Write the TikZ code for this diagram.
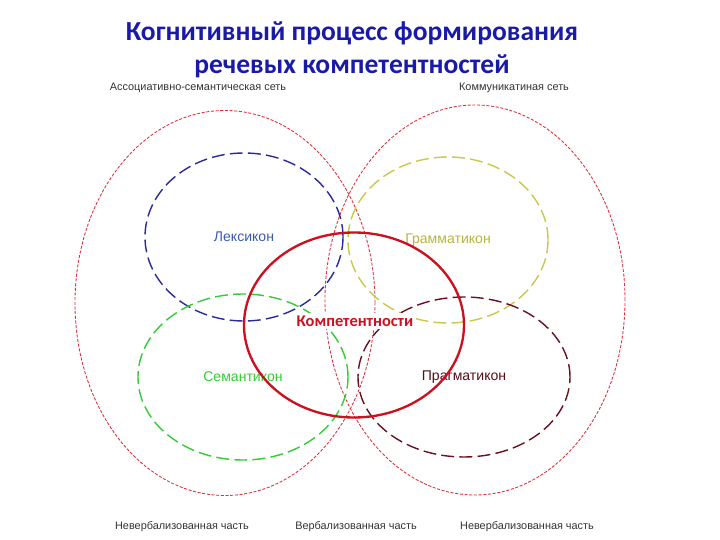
\documentclass[tikz,border=0pt]{standalone}
\usepackage{fontspec}
\setmainfont{Liberation Sans}
\newfontfamily\titlefont{Carlito}
\usepackage{xcolor}
\usepackage{tikz}
\usetikzlibrary{arrows.meta,positioning,shapes.geometric,calc}
\definecolor{titleblue}{HTML}{1A1AA8}
\definecolor{setred}{HTML}{E0303A}
\definecolor{leksblue}{HTML}{2A2A9A}
\definecolor{leksText}{HTML}{3A5AAE}
\definecolor{grammolive}{HTML}{C8C850}
\definecolor{grammText}{HTML}{B4B440}
\definecolor{semgreen}{HTML}{33CC33}
\definecolor{pragred}{HTML}{6A1020}
\definecolor{kompred}{HTML}{CC1020}
\definecolor{labelgray}{HTML}{333333}

\tikzset{
  setoval/.style={ellipse, draw=setred, line width=0.75pt, dash pattern=on 2.6pt off 1.4pt, inner sep=0pt},
  lexoval/.style={ellipse, line width=1.2pt, dash pattern=on 11pt off 4.5pt, inner sep=0pt, font=\fontsize{12}{14}\selectfont},
  partlabel/.style={font=\fontsize{9.3}{11}\selectfont, text=labelgray, inner sep=1pt}
}

\begin{document}
\begin{tikzpicture}[x=0.03cm,y=-0.03cm]
  \useasboundingbox (0,0) rectangle (720,540);

  % title
  \node[font=\titlefont\bfseries\fontsize{23.5}{28}\selectfont, text=titleblue, align=center] (titel) at (352,50)
    {Когнитивный процесс формирования\\речевых компетентностей};

  % the two nets
  \node[setoval, minimum width=9cm, minimum height=11.55cm] (assoz) at (225,303) {};
  \node[setoval, minimum width=9cm, minimum height=11.7cm] (kommun) at (475,300) {};

  % the four subsystems
  \node[lexoval, draw=leksblue, text=leksText, minimum width=5.94cm, minimum height=5.04cm] (leks) at (244,237) {Лексикон};
  \node[lexoval, draw=grammolive, text=grammText, minimum width=6cm, minimum height=4.98cm] (gramm) at (448,240) {Грамматикон};
  \node[lexoval, draw=semgreen, text=semgreen, minimum width=6.3cm, minimum height=4.98cm] (sem) at (243,377) {Семантикон};
  \node[lexoval, draw=pragred, text=pragred!80!black, minimum width=6.36cm, minimum height=4.8cm] (prag) at (464,377) {Прагматикон};

  % competences
  \node[ellipse, draw=kompred, line width=2pt, minimum width=6.6cm, minimum height=5.55cm] (kompkreis) at (354,325) {};
  \node[fill=white, inner sep=2pt, font=\titlefont\bfseries\fontsize{14}{16}\selectfont, text=kompred] (komp) at (355,321) {Компетентности};

  % labels
  \node[partlabel] (assozlab) at (198,88) {Ассоциативно-семантическая сеть};
  \node[partlabel] (kommunlab) at (514,88) {Коммуникатиная сеть};
  \node[partlabel] (nverb1) at (182,527) {Невербализованная часть};
  \node[partlabel] (verb) at (356,527) {Вербализованная часть};
  \node[partlabel] (nverb2) at (527,527) {Невербализованная часть};
\end{tikzpicture}
\end{document}
